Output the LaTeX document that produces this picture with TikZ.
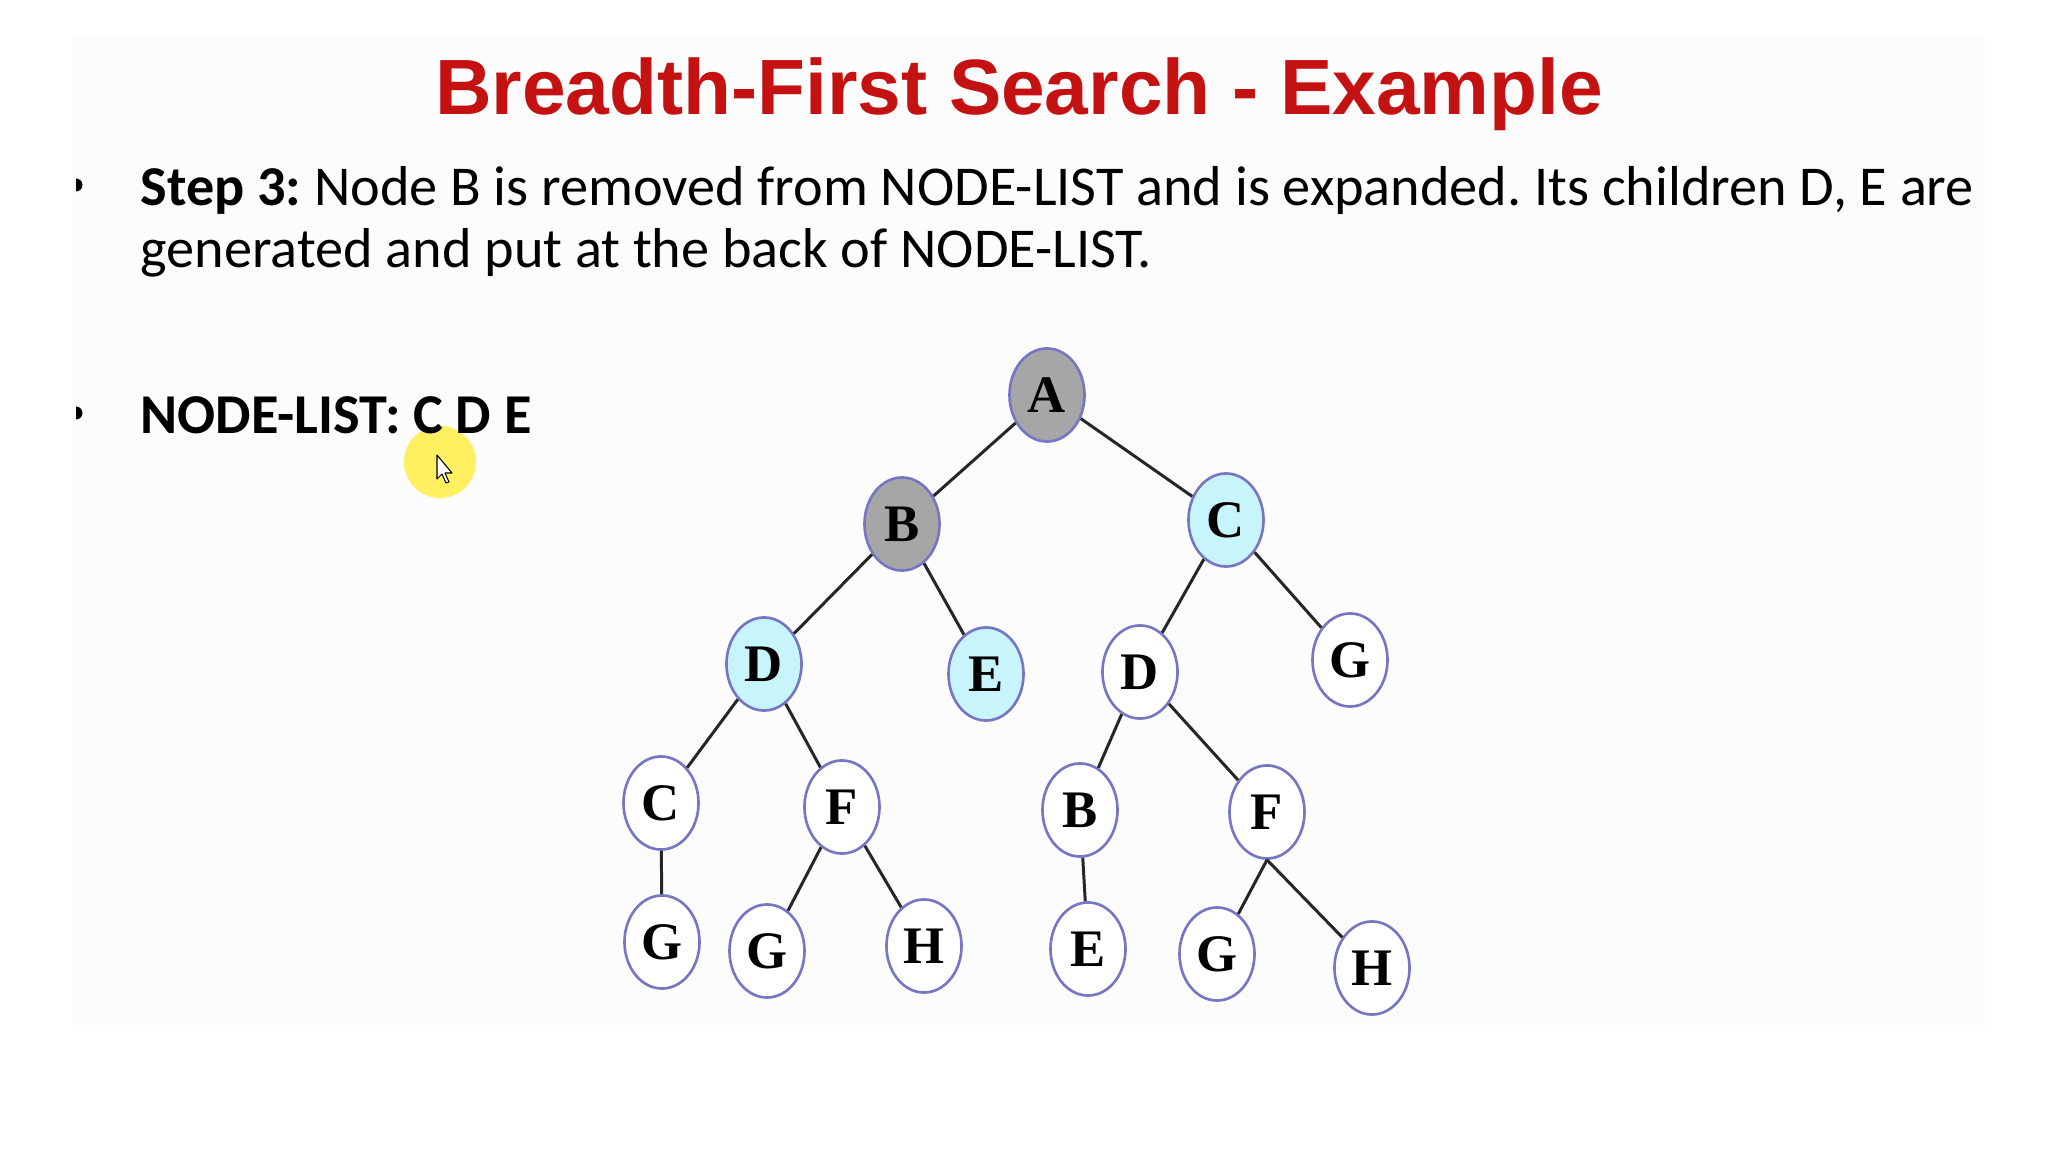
\documentclass[tikz,border=0pt]{standalone}
\usepackage{fontspec}
\setmainfont{Carlito}
\newfontfamily\titlefont{Liberation Sans}
\newfontfamily\treefont{Liberation Serif}
\usetikzlibrary{shapes.geometric}
\definecolor{ttlred}{RGB}{196,18,18}
\definecolor{ndline}{RGB}{118,118,196}
\definecolor{ndgray}{RGB}{166,166,166}
\definecolor{ndcyan}{RGB}{200,244,251}
\definecolor{slide}{RGB}{252,252,252}
\definecolor{glow}{RGB}{255,238,70}
\frenchspacing
\tikzset{
  nd/.style    ={ellipse,draw=ndline,line width=0.75pt,fill=white,minimum width=7.5mm,
                 minimum height=9.3mm,inner sep=0pt,font=\treefont\bfseries\fontsize{15}{15}\selectfont},
  seen/.style  ={nd,fill=ndgray},
  queued/.style={nd,fill=ndcyan},
  ed/.style    ={draw=black!85,line width=0.85pt},
  txt/.style   ={anchor=base west,inner sep=0pt,font=\fontsize{16}{17.6}\selectfont},
}

\begin{document}
\begin{tikzpicture}[x=0.01cm,y=-0.01cm]
  \useasboundingbox (0,0) rectangle (2048,1152);
  \fill[slide] (72,38) rectangle (1985,1030);
  % pointer highlight
  \fill[glow,opacity=0.85] (440,462) circle[radius=36];
  \draw[fill=white,line width=0.3pt,line join=round] (437,455) -- (437,479) -- (442,474) -- (446,483)
    -- (449,482) -- (445,473) -- (452,473) -- cycle;
  % bullets, cut at the slide edge
  \begin{scope}
    \clip (76,0) rectangle (100,1152);
    \fill (76,185) circle[radius=6.5];
    \fill (76,413) circle[radius=6.5];
  \end{scope}
  \node (ttl) [anchor=base,inner sep=0pt,text=ttlred,font=\titlefont\bfseries\fontsize{22.3}{27}\selectfont]
    at (1019,115) {Breadth-First Search - Example};
  \node (st1) [txt] at (140,206) {\textbf{Step 3:} Node B is removed from NODE-LIST and is expanded. Its children D, E are};
  \node (st2) [txt] at (140,268) {generated and put at the back of NODE-LIST.};
  \node (lst) [txt,font=\fontsize{16}{17.6}\selectfont\bfseries] at (140,434) {NODE-LIST: C D E};
  % search tree
  \node[seen]   (a)  at (1047,395) {A};
  \node[seen]   (b)  at (902,524)  {B};
  \node[queued] (c)  at (1226,520) {C};
  \node[queued] (d)  at (764,664)  {D};
  \node[queued] (e)  at (986,674)  {E};
  \node[nd]     (d2) at (1140,672) {D};
  \node[nd]     (g)  at (1350,660) {G};
  \node[nd]     (c2) at (661,803)  {C};
  \node[nd]     (f)  at (842,807)  {F};
  \node[nd]     (b2) at (1080,810) {B};
  \node[nd]     (f2) at (1267,812) {F};
  \node[nd]     (g2) at (662,942)  {G};
  \node[nd]     (g3) at (767,951)  {G};
  \node[nd]     (h)  at (924,946)  {H};
  \node[nd]     (e2) at (1088,949) {E};
  \node[nd]     (g4) at (1217,954) {G};
  \node[nd]     (h2) at (1372,968) {H};
  \draw[ed] (a) -- (b); \draw[ed] (a) -- (c);
  \draw[ed] (b) -- (d); \draw[ed] (b) -- (e);
  \draw[ed] (c) -- (d2); \draw[ed] (c) -- (g);
  \draw[ed] (d) -- (c2); \draw[ed] (d) -- (f);
  \draw[ed] (c2) -- (g2);
  \draw[ed] (f) -- (g3); \draw[ed] (f) -- (h);
  \draw[ed] (d2) -- (b2); \draw[ed] (d2) -- (f2);
  \draw[ed] (b2) -- (e2);
  \draw[ed] (f2.south) -- (g4); \draw[ed] (f2.south) -- (h2);
\end{tikzpicture}
\end{document}
